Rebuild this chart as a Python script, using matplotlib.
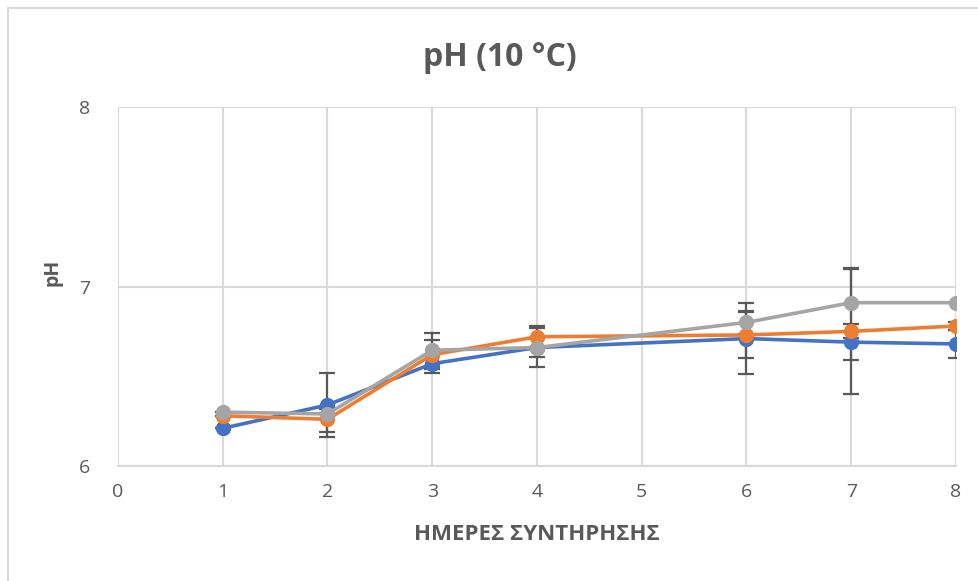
import matplotlib.pyplot as plt
from matplotlib.patches import Rectangle

days = [1, 2, 3, 4, 6, 7, 8]

# three series, mean pH per day
ph_blue = [6.21, 6.34, 6.57, 6.66, 6.71, 6.69, 6.68]
ph_orange = [6.28, 6.26, 6.62, 6.72, 6.73, 6.75, 6.78]
ph_gray = [6.30, 6.29, 6.645, 6.66, 6.80, 6.91, 6.91]

# standard deviations (error bars)
err_blue = [0.0, 0.18, 0.05, 0.05, 0.20, 0.10, 0.08]
err_orange = [0.0, 0.07, 0.08, 0.06, 0.13, 0.35, 0.02]
err_gray = [0.0, 0.03, 0.095, 0.11, 0.065, 0.195, 0.0]

x_ticks = [0, 1, 2, 3, 4, 5, 6, 7, 8]
y_ticks = [6, 7, 8]

plt.rcParams['font.family'] = ['Open Sans', 'DejaVu Sans']

fig = plt.figure(figsize=(9.79, 5.81), dpi=100)
ax = fig.add_axes([118 / 979, 1 - 466 / 581, (956 - 118) / 979, (466 - 107) / 581])

# chart border
fig.patches.append(Rectangle((8 / 979, -0.1), 1.2, 1.1 - 8 / 581,
                             transform=fig.transFigure, fill=False,
                             edgecolor='#d9d9d9', linewidth=1.5))

series = [(ph_blue, err_blue, '#4472C4'),
          (ph_orange, err_orange, '#ED7D31'),
          (ph_gray, err_gray, '#A5A5A5')]
for vals, errs, col in series:
    ax.errorbar(days, vals, yerr=errs, color=col, marker='o', markersize=10,
                linewidth=2.6, ecolor='#595959', elinewidth=1.6, capsize=6,
                capthick=1.6, zorder=3)

ax.set_xlim(0, 8)
ax.set_ylim(6, 8)
ax.set_xticks(x_ticks)
ax.set_yticks(y_ticks)
ax.grid(True, color='#d9d9d9', linewidth=1.5, zorder=0)
ax.set_axisbelow(True)
for s in ['top', 'right', 'left']:
    ax.spines[s].set_visible(False)
ax.spines['bottom'].set_color('#d9d9d9')
ax.spines['bottom'].set_linewidth(1.5)
ax.tick_params(length=0, labelsize=14, labelcolor='#595959', pad=12)
ax.tick_params(axis='y', pad=20)

fig.text(500 / 979, 1 - 57 / 581, 'pH (10 °C)', fontsize=23, fontweight='bold',
         color='#595959', ha='center', va='center')
ax.set_xlabel('ΗΜΕΡΕΣ ΣΥΝΤΗΡΗΣΗΣ', fontsize=16, fontweight='bold', color='#595959',
              va='center')
ax.xaxis.set_label_coords(0.5, -0.19)
ax.set_ylabel('pH', fontsize=14, fontweight='bold', color='#595959', va='center')
ax.yaxis.set_label_coords(-0.078, 0.54)

fig.savefig('out.png', dpi=100)
